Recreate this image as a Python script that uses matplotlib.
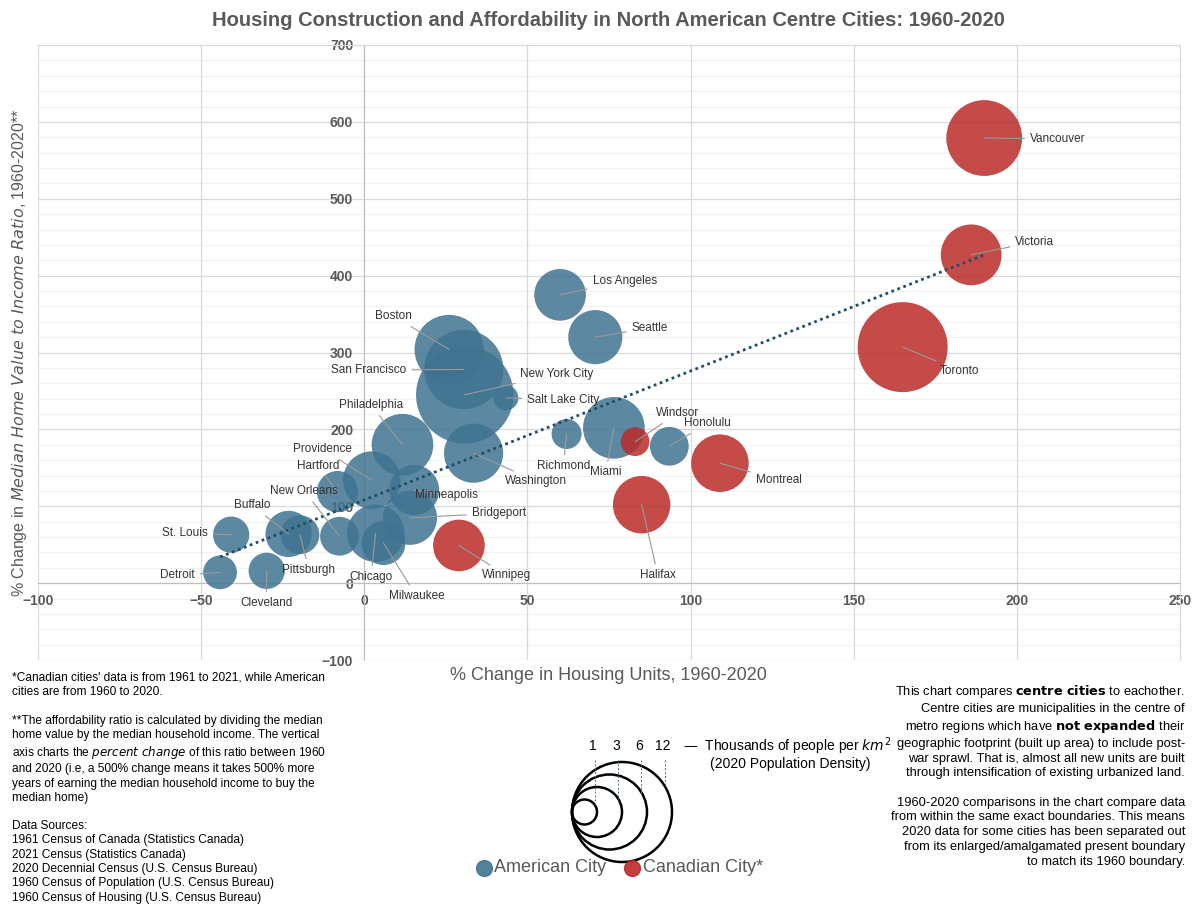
import numpy as np
import matplotlib
matplotlib.use("Agg")
import matplotlib.pyplot as plt
from matplotlib.patches import Circle

plt.rcParams['font.family'] = ['Liberation Sans', 'DejaVu Sans']

# city, housing change %, affordability change %, density (k people / km2), canadian?
cities = ['St. Louis', 'Detroit', 'Cleveland', 'Buffalo', 'Pittsburgh', 'Hartford', 'New Orleans',
          'Chicago', 'Milwaukee', 'Providence', 'Philadelphia', 'Minneapolis', 'Bridgeport',
          'Boston', 'San Francisco', 'New York City', 'Salt Lake City', 'Washington', 'Winnipeg',
          'Richmond', 'Miami', 'Windsor', 'Honolulu', 'Montreal', 'Halifax', 'Los Angeles',
          'Seattle', 'Vancouver', 'Victoria', 'Toronto']
housing = [-40.8, -44.2, -29.9, -23.2, -19.7, -8.2, -7.6, 3.5, 5.9, 2.3, 11.7, 15.3, 14.0,
           26.0, 30.5, 30.8, 43.4, 33.5, 29.0, 62.0, 76.5, 83.0, 93.5, 109.0, 85.0, 60.0,
           70.8, 190.0, 186.0, 165.0]
afford = [63, 14, 16, 64, 63, 119, 61, 65, 52, 134, 180, 121, 85, 304, 278, 245, 241, 169, 49,
          194, 202, 184, 178, 156, 102, 375, 320, 579, 427, 307]
density = [1.9, 1.7, 1.9, 2.7, 2.1, 2.3, 2.1, 3.9, 2.5, 3.9, 4.4, 3.0, 3.5, 5.3, 7.0, 11.4, 0.6,
           4.1, 3.2, 1.4, 4.4, 1.3, 2.1, 3.9, 3.9, 3.2, 3.5, 6.2, 4.3, 9.6]
canadian = ['Winnipeg', 'Windsor', 'Montreal', 'Halifax', 'Vancouver', 'Victoria', 'Toronto']

# label positions (data coords) and alignment
label_pos = {
    'Vancouver': (204, 578, 'left'), 'Victoria': (199.5, 444, 'left'), 'Toronto': (176.5, 276, 'left'),
    'Los Angeles': (70, 393, 'left'), 'Seattle': (82, 332, 'left'), 'Boston': (14.7, 347, 'right'),
    'San Francisco': (12.9, 277, 'right'), 'New York City': (47.8, 272, 'left'),
    'Salt Lake City': (50, 238, 'left'), 'Philadelphia': (2, 232, 'center'),
    'Providence': (-3.7, 174, 'right'), 'Hartford': (-7.7, 152, 'right'),
    'New Orleans': (-8, 120, 'right'), 'Buffalo': (-28.8, 101, 'right'),
    'St. Louis': (-48, 65, 'right'), 'Detroit': (-52, 10, 'right'), 'Cleveland': (-30, -26, 'center'),
    'Pittsburgh': (-17, 17, 'center'), 'Chicago': (2, 8, 'center'), 'Milwaukee': (16, -17, 'center'),
    'Minneapolis': (15.6, 114, 'left'), 'Bridgeport': (33, 91, 'left'), 'Washington': (43, 133, 'left'),
    'Winnipeg': (36, 10, 'left'), 'Richmond': (61, 152, 'center'), 'Miami': (74, 144, 'center'),
    'Windsor': (89.5, 221, 'left'), 'Honolulu': (98, 208, 'left'), 'Montreal': (120, 134, 'left'),
    'Halifax': (90, 10, 'center'),
}

legend_density = [1, 3, 6, 12]
legend_diam_px = [25, 50, 75, 100]

BLUE = '#3f7391'
RED = '#bb2b28'
GREY = '#595959'


def diam_px(d):
    return np.interp(d, legend_density, legend_diam_px)


fig = plt.figure(figsize=(12, 9.17), dpi=100)
ax = fig.add_axes([38 / 1200, 1 - 660 / 917, 1142 / 1200, 615 / 917])
ax.set_xlim(-100, 250)
ax.set_ylim(-100, 700)

sizes = [(diam_px(d) * 0.72) ** 2 for d in density]
cols = [RED if c in canadian else BLUE for c in cities]
ax.scatter(housing, afford, s=sizes, c=cols, alpha=0.85, linewidths=0, zorder=3)

# linear trendline
k, b = np.polyfit(housing, afford, 1)
xs = np.array([min(housing), max(housing)])
ax.plot(xs, k * xs + b, ls=(0, (1, 1.3)), color='#1f4e6b', lw=2, zorder=4)

for c, x, y in zip(cities, housing, afford):
    lx, ly, ha = label_pos[c]
    ax.annotate(c, xy=(x, y), xytext=(lx, ly), ha=ha, va='center', fontsize=8.5,
                color='#333333',
                arrowprops=dict(arrowstyle='-', color='#999999', lw=0.8, shrinkA=2, shrinkB=0),
                zorder=5)

ax.set_xticks(np.arange(-100, 251, 50))
ax.set_yticks(np.arange(-100, 701, 100))
ax.grid(True, which='major', color='#d9d9d9', lw=0.9)
for yy in np.arange(-100, 701, 20):
    if yy % 100:
        ax.axhline(yy, color='#efefef', lw=0.6, zorder=0.3)
ax.set_axisbelow(True)
for s in ['top', 'right']:
    ax.spines[s].set_color('#d9d9d9')
ax.spines['left'].set_position(('data', 0))
ax.spines['bottom'].set_position(('data', 0))
ax.spines['left'].set_color('#bfbfbf')
ax.spines['bottom'].set_color('#bfbfbf')
ax.tick_params(length=0, which='both', labelsize=10, colors=GREY)
ax.tick_params(axis='y', pad=8)
ax.tick_params(axis='x', pad=8)
for t in ax.get_xticklabels() + ax.get_yticklabels():
    t.set_fontweight('bold')
ax.set_ylim(-100, 700)

# overlay in pixel coordinates for texts and legend
ov = fig.add_axes([0, 0, 1, 1], zorder=10)
ov.set_xlim(0, 1200)
ov.set_ylim(917, 0)
ov.axis('off')
ov.patch.set_alpha(0)

ov.text(608, 20, 'Housing Construction and Affordability in North American Centre Cities: 1960-2020',
        ha='center', va='center', fontsize=14.5, fontweight='bold', color=GREY)
ov.text(608, 675, '% Change in Housing Units, 1960-2020', ha='center', va='center', fontsize=13, color=GREY)
ov.text(20, 353, r'% Change in $\it{Median\ Home\ Value\ to\ Income\ Ratio}$, 1960-2020**',
        ha='center', va='center', rotation=90, fontsize=11.5, color=GREY)

left_txt = ("*Canadian cities' data is from 1961 to 2021, while American\ncities are from 1960 to 2020.\n\n"
            "**The affordability ratio is calculated by dividing the median\nhome value by the median household income. The vertical\n"
            "axis charts the $\\it{percent\\ change}$ of this ratio between 1960\nand 2020 (i.e, a 500% change means it takes 500% more\n"
            "years of earning the median household income to buy the\nmedian home)\n\n"
            "Data Sources:\n1961 Census of Canada (Statistics Canada)\n2021 Census (Statistics Canada)\n"
            "2020 Decennial Census (U.S. Census Bureau)\n1960 Census of Population (U.S. Census Bureau)\n"
            "1960 Census of Housing (U.S. Census Bureau)")
ov.text(12, 672, left_txt, ha='left', va='top', fontsize=8.6, color='black', linespacing=1.25)

right_txt = ("This chart compares $\\bf{centre\\ cities}$ to eachother.\nCentre cities are municipalities in the centre of\n"
             "metro regions which have $\\bf{not\\ expanded}$ their\ngeographic footprint (built up area) to include post-\n"
             "war sprawl. That is, almost all new units are built\nthrough intensification of existing urbanized land.\n\n"
             "1960-2020 comparisons in the chart compare data\nfrom within the same exact boundaries. This means\n"
             "2020 data for some cities has been separated out\nfrom its enlarged/amalgamated present boundary\n"
             "to match its 1960 boundary.")
ov.text(1185, 683, right_txt, ha='right', va='top', fontsize=9.3, color='black', linespacing=1.3,
        multialignment='right')

# size legend
lx0, ly0 = 572, 812
for d, dp in zip(legend_density, legend_diam_px):
    r = dp / 2
    ov.add_patch(Circle((lx0 + r, ly0), r, fill=False, ec='black', lw=1.8))
    xr = lx0 + r + r * 0.85
    ov.plot([xr, xr], [760, ly0 - r * 0.5], ls=(0, (2, 2)), color='#4a6b80', lw=0.7)
    ov.text(xr - 2, 746, str(d), ha='center', va='center', fontsize=10)
ov.text(683, 746, r'—  Thousands of people per $km^2$', ha='left', va='center', fontsize=10)
ov.text(710, 764, '(2020 Population Density)', ha='left', va='center', fontsize=10)

# colour legend
ov.scatter([484], [868], s=130, color=BLUE, alpha=0.9)
ov.text(494, 868, 'American City', ha='left', va='center', fontsize=13, color=GREY)
ov.scatter([632], [868], s=130, color=RED, alpha=0.9)
ov.text(643, 868, 'Canadian City*', ha='left', va='center', fontsize=13, color=GREY)

fig.savefig('out.png', dpi=100)
